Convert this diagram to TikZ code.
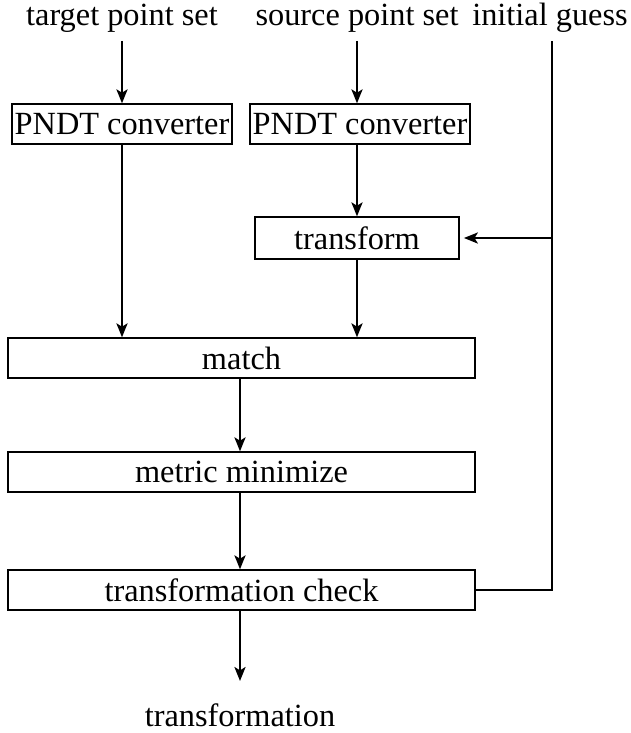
\documentclass[tikz,border=0pt]{standalone}
\usepackage{fontspec}
\setmainfont{Liberation Serif}
\usetikzlibrary{arrows.meta}

\tikzset{
  blk/.style={shape=rectangle, draw, line width=1pt, inner sep=0pt, minimum height=1cm},
  lbl/.style={inner sep=6pt},
  flow/.style={-{Stealth[length=10pt,width=8pt,inset=2.5pt]}, line width=1pt}
}

\begin{document}
\begin{tikzpicture}[x=0.025cm, y=-0.025cm, font=\fontsize{23}{27}\selectfont]
	\useasboundingbox (0,0) rectangle (631,733);

	\node[lbl] (tgt) at (122,18) {target point set};
	\node[lbl] (src) at (357,18) {source point set};
	\node[lbl] (guess) at (550,18) {initial guess};

	\node[blk, minimum width=5.5cm] (conv1) at (122,124) {PNDT converter};
	\node[blk, minimum width=5.5cm] (conv2) at (360,124) {PNDT converter};
	\node[blk, minimum width=5.1cm, minimum height=1.05cm] (tf) at (357,238) {transform};
	\node[blk, minimum width=11.675cm] (match) at (241.5,358) {match};
	\node[blk, minimum width=11.675cm] (metric) at (241.5,472) {metric minimize};
	\node[blk, minimum width=11.675cm] (check) at (241.5,590) {transformation check};
	\node[lbl, outer sep=10pt] (out) at (240,715) {transformation};

	\coordinate (gbot) at (552,590);
	\coordinate (gmid) at (552,238);

	\path[flow] (tgt) edge (conv1)
	(src) edge (src |- conv2.north)
	(conv1) edge (conv1 |- match.north)
	(conv2.south -| tf) edge (tf)
	(tf) edge (tf |- match.north)
	(match.south -| out) edge (out |- metric.north)
	(metric.south -| out) edge (out |- check.north)
	(check.south -| out) edge (out)
	(gmid) edge[shorten >=3pt] (tf);

	\draw[line width=1pt] (guess.south -| gbot) -- (gbot) -- (check.east);
\end{tikzpicture}
\end{document}
